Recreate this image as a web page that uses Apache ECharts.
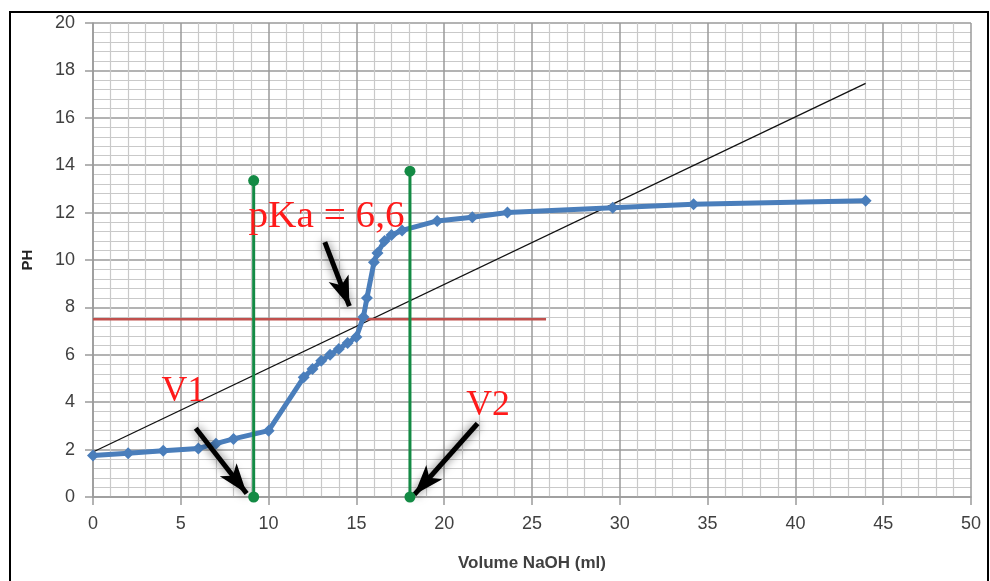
<!DOCTYPE html>
<html>
<head>
<meta charset="utf-8">
<script src="https://cdn.jsdelivr.net/npm/echarts@6/dist/echarts.min.js"></script>
<style>
  html, body { margin: 0; padding: 0; background: #fff; }
  #chart { width: 990px; height: 581px; }
</style>
</head>
<body>
<div id="chart"></div>
<script>
// Titration curve: volume of NaOH added (ml) and measured pH
const volume = [0, 2, 4, 6, 7, 8, 10, 12, 12.5, 13, 13.5, 14, 14.5, 15, 15.4, 15.6, 16, 16.2, 16.6, 17, 17.6, 19.6, 21.6, 23.6, 29.6, 34.2, 44];
const ph     = [1.75, 1.85, 1.95, 2.05, 2.25, 2.45, 2.8, 5.05, 5.4, 5.75, 6.0, 6.25, 6.5, 6.75, 7.6, 8.4, 9.9, 10.3, 10.8, 11.05, 11.25, 11.65, 11.8, 12.0, 12.2, 12.35, 12.5];

// Construction lines
const diagonal = [[0, 1.9], [44, 17.45]];
const pkaLevel = [[0, 7.5], [25.8, 7.5]];
const v1Line = [[9.15, 0], [9.15, 13.35]];
const v2Line = [[18.05, 0], [18.05, 13.75]];

// Arrows: [start, end] in axis units
const arrows = [
  [[5.85, 2.9], [8.75, 0.15]],
  [[21.9, 3.1], [18.3, 0.1]],
  [[13.2, 10.75], [14.6, 8.05]]
];

// Annotation texts and their anchor points
const noteTexts = ['V1', 'V2', 'pKa = 6,6'];
const noteAnchors = [[5.15, 4.45], [22.5, 3.85], [13.3, 11.8]];

const chart = echarts.init(document.getElementById('chart'));

const labelFont = '"Liberation Sans Narrow", "Liberation Sans", sans-serif';
const majorGrid = '#9a9a9a';
const minorGrid = '#c9c9c9';

function axisCommon() {
  return {
    axisLine: { show: true, lineStyle: { color: majorGrid, width: 1.5 } },
    axisTick: { show: true, length: 8, lineStyle: { color: majorGrid, width: 1.5 } },
    splitLine: { show: true, lineStyle: { color: majorGrid, width: 1.5 } },
    minorTick: { show: false, splitNumber: 5 },
    minorSplitLine: { show: true, lineStyle: { color: minorGrid, width: 1.2 } },
    axisLabel: { color: '#404040', fontSize: 18, fontFamily: labelFont, margin: 18 }
  };
}

const arrowSeries = arrows.map(a => ({
  type: 'line',
  data: [],
  silent: true,
  z: 6,
  markLine: {
    silent: true,
    symbol: ['none', 'arrow'],
    symbolSize: [16, 30],
    label: { show: false },
    lineStyle: { color: '#000', width: 5, type: 'solid', shadowColor: 'rgba(0,0,0,0.6)', shadowBlur: 10 },
    data: [[{ coord: a[0] }, { coord: a[1] }]]
  }
}));

chart.setOption({
  animation: false,
  grid: { left: 93, right: 19, top: 23, bottom: 84 },
  xAxis: Object.assign(axisCommon(), {
    type: 'value', min: 0, max: 50, interval: 5,
    name: 'Volume NaOH (ml)', nameLocation: 'middle', nameGap: 58,
    nameTextStyle: { fontSize: 17, fontWeight: 'bold', color: '#404040', fontFamily: labelFont }
  }),
  yAxis: Object.assign(axisCommon(), {
    type: 'value', min: 0, max: 20, interval: 2,
    name: 'PH', nameLocation: 'middle', nameGap: 58, nameRotate: 90,
    nameTextStyle: { fontSize: 15, fontWeight: 'bold', color: '#222', fontFamily: labelFont }
  }),
  series: [
    {
      type: 'line', data: diagonal, symbol: 'none', z: 3,
      lineStyle: { color: '#111', width: 1.3 }
    },
    {
      type: 'line', data: pkaLevel, symbol: 'none', z: 3,
      lineStyle: { color: '#c0504d', width: 2.5 }
    },
    {
      type: 'line', data: volume.map((v, i) => [v, ph[i]]),
      symbol: 'diamond', symbolSize: 12, z: 4,
      itemStyle: { color: '#4a7ebb' },
      lineStyle: { color: '#4a7ebb', width: 5 }
    },
    {
      type: 'line', data: v1Line, symbol: 'circle', symbolSize: 11, z: 5,
      itemStyle: { color: '#138a44' }, lineStyle: { color: '#138a44', width: 3 }
    },
    {
      type: 'line', data: v2Line, symbol: 'circle', symbolSize: 11, z: 5,
      itemStyle: { color: '#138a44' }, lineStyle: { color: '#138a44', width: 3 }
    }
  ].concat(arrowSeries)
});

// Place the red notes and the outer frame once the scales are known
const notes = noteTexts.map((t, i) => {
  const p = chart.convertToPixel({ gridIndex: 0 }, noteAnchors[i]);
  return {
    type: 'text', x: p[0], y: p[1], z: 20,
    scaleX: i === 2 ? 1.06 : 1.02,
    originX: 0, originY: 0,
    style: {
      text: t, fill: '#ff1a1a',
      font: (i === 2 ? '37px' : '35px') + ' "Liberation Serif", "Times New Roman", serif',
      textAlign: 'center', textVerticalAlign: 'middle',
      shadowColor: 'rgba(0,0,0,0.35)', shadowBlur: 6
    }
  };
});

chart.setOption({
  graphic: [
    {
      type: 'rect', z: 30, silent: true,
      shape: { x: 10, y: 12, width: 978, height: 600 },
      style: { fill: 'none', stroke: '#000', lineWidth: 2 }
    }
  ].concat(notes)
});
</script>
</body>
</html>
